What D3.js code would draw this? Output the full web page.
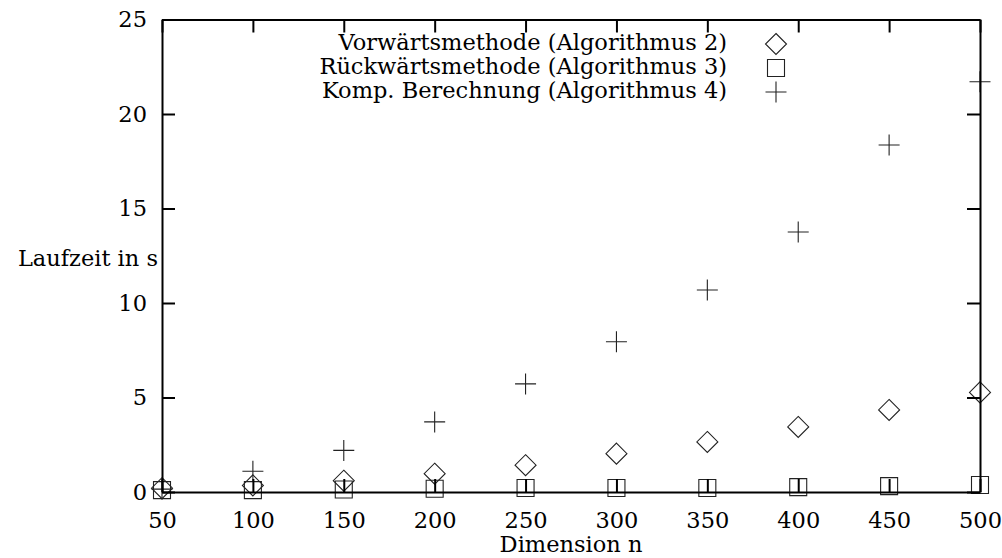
<!DOCTYPE html>
<html>
<head>
<meta charset="utf-8">
<script src="https://cdn.jsdelivr.net/npm/d3@7"></script>
<style>
  body { margin: 0; background: #fff; }
  text { font-family: "DejaVu Serif", serif; font-size: 22.5px; fill: #000; }
</style>
</head>
<body>
<div id="chart"></div>
<script>
const dimensions = [50, 100, 150, 200, 250, 300, 350, 400, 450, 500]
const vorwaerts = [0.2, 0.35, 0.6, 0.97, 1.42, 2.03, 2.65, 3.44, 4.34, 5.27]
const rueckwaerts = [0.1, 0.1, 0.13, 0.17, 0.21, 0.21, 0.21, 0.26, 0.31, 0.37]
const komp = [0.15, 1.1, 2.2, 3.71, 5.72, 7.95, 10.69, 13.76, 18.36, 21.71]

const xTicks = [50, 100, 150, 200, 250, 300, 350, 400, 450, 500]
const yTicks = [0, 5, 10, 15, 20, 25]

const series = [
  { name: "Vorwärtsmethode (Algorithmus 2)", values: vorwaerts, marker: "diamond" },
  { name: "Rückwärtsmethode (Algorithmus 3)", values: rueckwaerts, marker: "square" },
  { name: "Komp. Berechnung (Algorithmus 4)", values: komp, marker: "plus" }
]

const width = 1002
const height = 558
const margin = { top: 19.5, right: 22, bottom: 66, left: 162 }

const svg = d3.select("#chart")
  .append("svg")
  .attr("width", width)
  .attr("height", height)

const x = d3.scaleLinear()
  .domain([50, 500])
  .range([margin.left, width - margin.right])

const y = d3.scaleLinear()
  .domain([0, 25])
  .range([height - margin.bottom, margin.top])

// marker shapes relative to their centre
function markerPath(type) {
  if (type === "diamond") return "M0,-10.5L10.5,0L0,10.5L-10.5,0Z"
  if (type === "square") return "M-8.5,-8.5H8.5V8.5H-8.5Z"
  return "M-10.5,0H10.5M0,-10.5V10.5"
}

const points = svg.append("g")

series.forEach(s => {
  points.selectAll(null)
    .data(dimensions.map((d, i) => ({ n: d, v: s.values[i] })))
    .enter()
    .append("path")
    .attr("transform", d => `translate(${x(d.n)},${y(d.v)})`)
    .attr("d", markerPath(s.marker))
    .attr("fill", "none")
    .attr("stroke", "#222")
    .attr("stroke-width", 1.1)
})

// axes: inner ticks, mirrored on all four sides
const tickLen = 13
const axisStroke = g => g.selectAll("line, path").attr("stroke", "#000").attr("stroke-width", 2)

svg.append("g")
  .attr("transform", `translate(0,${y(0)})`)
  .call(d3.axisBottom(x).tickValues(xTicks).tickSize(-tickLen).tickPadding(20).tickSizeOuter(0))
  .call(axisStroke)
  .call(g => g.selectAll("text").attr("font-size", 21).attr("font-family", "DejaVu Serif"))

svg.append("g")
  .attr("transform", `translate(0,${y(25)})`)
  .call(d3.axisTop(x).tickValues(xTicks).tickSize(-tickLen).tickFormat("").tickSizeOuter(0))
  .call(axisStroke)

svg.append("g")
  .attr("transform", `translate(${x(50)},0)`)
  .call(d3.axisLeft(y).tickValues(yTicks).tickSize(-tickLen).tickPadding(15).tickSizeOuter(0))
  .call(axisStroke)
  .call(g => g.selectAll("text").attr("font-size", 21).attr("font-family", "DejaVu Serif"))

svg.append("g")
  .attr("transform", `translate(${x(500)},0)`)
  .call(d3.axisRight(y).tickValues(yTicks).tickSize(-tickLen).tickFormat("").tickSizeOuter(0))
  .call(axisStroke)

svg.selectAll(".domain").attr("stroke-width", 2)

// axis titles
svg.append("text")
  .attr("x", (x(50) + x(500)) / 2)
  .attr("y", height - 6)
  .attr("text-anchor", "middle")
  .text("Dimension n")

svg.append("text")
  .attr("x", x(50) - 4)
  .attr("y", 266)
  .attr("text-anchor", "end")
  .text("Laufzeit in s")

// legend
const legend = svg.append("g")

series.forEach((s, i) => {
  const ly = 44 + i * 24
  legend.append("text")
    .attr("x", 727)
    .attr("y", ly + 6)
    .attr("text-anchor", "end")
    .text(s.name)
  legend.append("path")
    .attr("transform", `translate(776,${ly})`)
    .attr("d", markerPath(s.marker))
    .attr("fill", "none")
    .attr("stroke", "#222")
    .attr("stroke-width", 1.1)
})
</script>
</body>
</html>
